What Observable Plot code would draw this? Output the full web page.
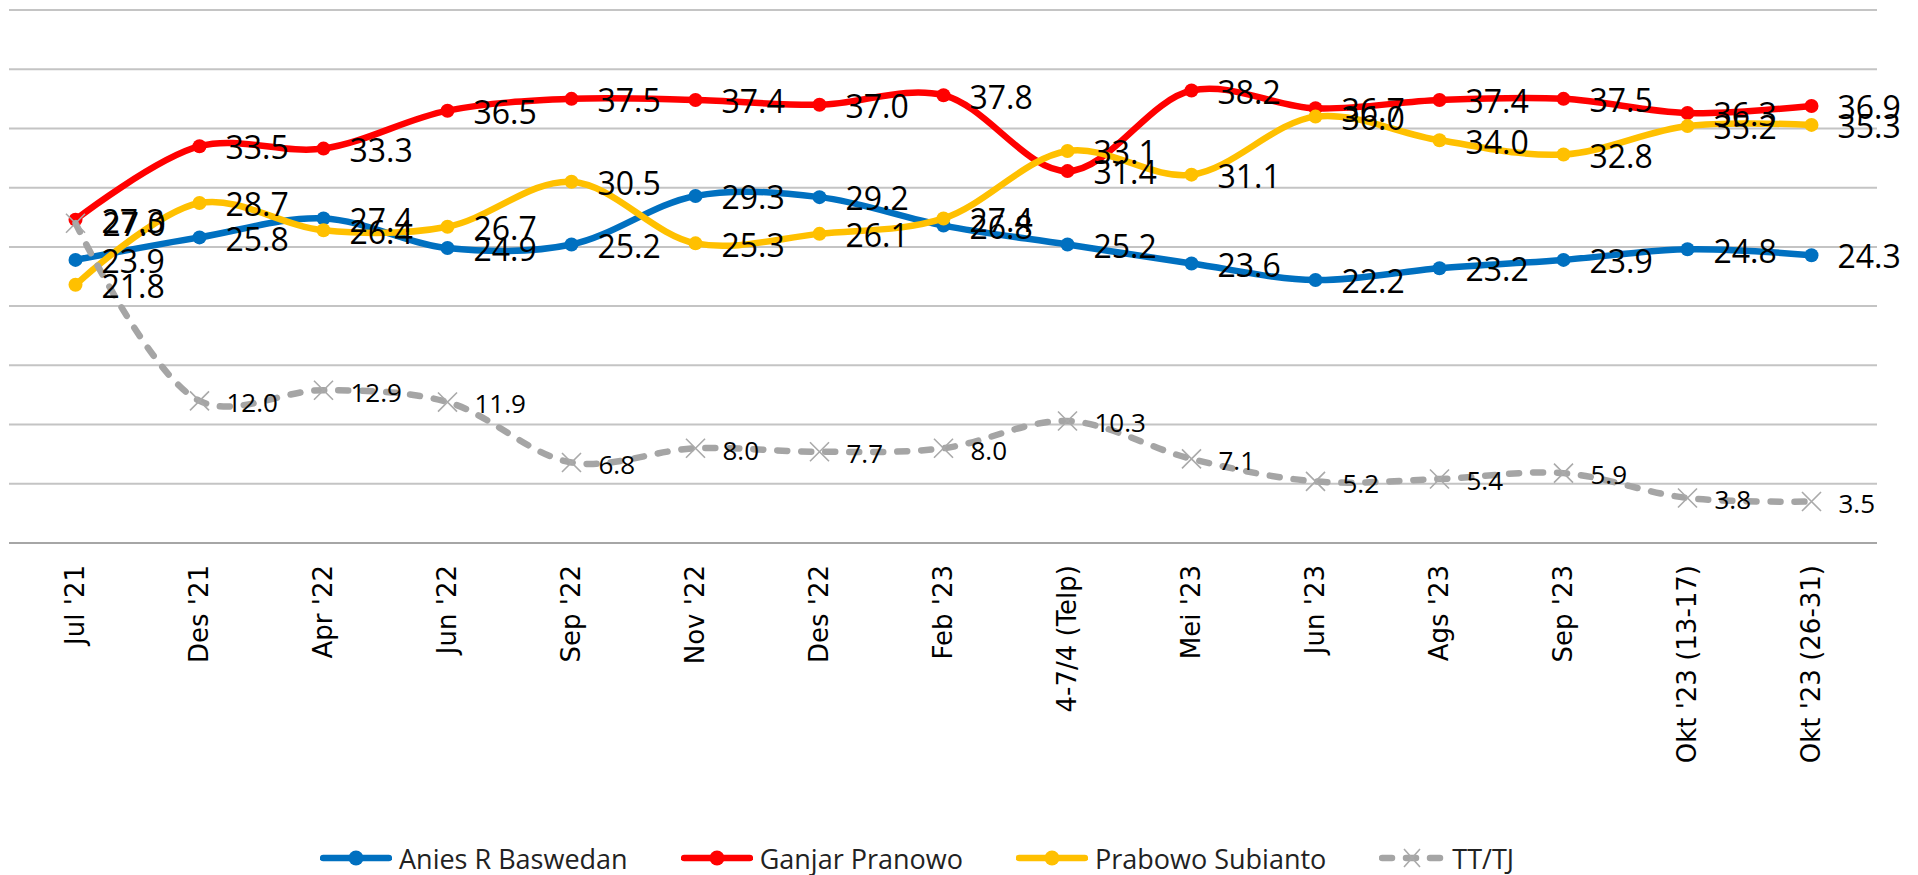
<!DOCTYPE html>
<html>
<head>
<meta charset="utf-8">
<script src="https://cdn.jsdelivr.net/npm/d3@7"></script>
<script src="https://cdn.jsdelivr.net/npm/@observablehq/plot@0.6"></script>
<style>
  body { margin: 0; background: #fff; width: 1918px; height: 875px; overflow: hidden; position: relative; }
  #legend { position: absolute; left: 320px; top: 836px; height: 44px; display: flex; align-items: center;
            font-family: "Open Sans", "Noto Sans", sans-serif; font-size: 27px; color: #222; white-space: nowrap; }
  .item { display: flex; align-items: center; margin-right: 53px; }
  .item svg { margin-right: 7px; }
</style>
</head>
<body>
<div id="chart"></div>
<div id="legend"></div>
<script>
const categories = ["Jul '21", "Des '21", "Apr '22", "Jun '22", "Sep '22", "Nov '22", "Des '22", "Feb '23",
  "4-7/4 (Telp)", "Mei '23", "Jun '23", "Ags '23", "Sep '23", "Okt '23 (13-17)", "Okt '23 (26-31)"];
const anies   = [23.9, 25.8, 27.4, 24.9, 25.2, 29.3, 29.2, 26.8, 25.2, 23.6, 22.2, 23.2, 23.9, 24.8, 24.3];
const ganjar  = [27.3, 33.5, 33.3, 36.5, 37.5, 37.4, 37.0, 37.8, 31.4, 38.2, 36.7, 37.4, 37.5, 36.3, 36.9];
const prabowo = [21.8, 28.7, 26.4, 26.7, 30.5, 25.3, 26.1, 27.4, 33.1, 31.1, 36.0, 34.0, 32.8, 35.2, 35.3];
const ttj     = [27.0, 12.0, 12.9, 11.9, 6.8, 8.0, 7.7, 8.0, 10.3, 7.1, 5.2, 5.4, 5.9, 3.8, 3.5];
const seriesNames = ["Anies R Baswedan", "Ganjar Pranowo", "Prabowo Subianto", "TT/TJ"];
const seriesColors = ["#0070C0", "#FF0000", "#FFC000", "#A5A5A5"];
const yTicks = [0, 5, 10, 15, 20, 25, 30, 35, 40, 45];

const seriesValues = [anies, ganjar, prabowo, ttj];
const rows = seriesValues.map((vals, s) => vals.map((v, i) => ({cat: categories[i], v, i, s})));

const W = 1918, H = 815, yZero = 542.5;
const marks = [
  Plot.ruleY(yTicks.filter(t => t > 0), {stroke: "#c4c4c4", strokeWidth: 2}),
  Plot.ruleY([0], {stroke: "#a6a6a6", strokeWidth: 2}),
  Plot.axisX({tickRotate: -90, tickSize: 0, tickPadding: 22, fontSize: 26,
              fontFamily: "DejaVu Sans", fill: "#000", label: null})
];
rows.forEach((data, s) => {
  const color = seriesColors[s];
  if (s < 3) {
    marks.push(Plot.line(data, {x: "cat", y: "v", stroke: color, strokeWidth: 6.5, curve: "catmull-rom",
                                strokeLinecap: "round", strokeLinejoin: "round"}));
    marks.push(Plot.dot(data, {x: "cat", y: "v", fill: color, r: 7, stroke: null}));
  } else {
    marks.push(Plot.line(data, {x: "cat", y: "v", stroke: color, strokeWidth: 6.5, curve: "catmull-rom",
                                strokeDasharray: "10 14", strokeLinecap: "round"}));
    marks.push(Plot.dot(data, {x: "cat", y: "v", symbol: "times", r: 8.7, stroke: "#aaaaaa",
                               strokeWidth: 1.6, fill: "none"}));
  }
});
rows.forEach((data, s) => {
  marks.push(Plot.text(data, {
    x: "cat", y: "v", text: d => d.v.toFixed(1), textAnchor: "start",
    dx: s < 3 ? 26 : 27, dy: 3,
    fontSize: s < 3 ? 32 : (d => d.i === 0 ? 32 : 26),
    fontFamily: "Open Sans", fill: "#000"
  }));
});

const chart = Plot.plot({
  width: W, height: H,
  marginLeft: 9, marginRight: 41, marginTop: 9.5, marginBottom: H - yZero,
  x: {type: "point", domain: categories, padding: 0.5, label: null, axis: null},
  y: {domain: [0, 45], axis: null},
  style: {background: "#fff", color: "#000", overflow: "visible"},
  marks
});
document.getElementById("chart").appendChild(chart);

// Legend
const legend = document.getElementById("legend");
seriesNames.forEach((name, s) => {
  const item = document.createElement("div");
  item.className = "item";
  const color = seriesColors[s];
  let sw;
  if (s < 3) {
    sw = `<svg width="72" height="20"><line x1="3" y1="10" x2="69" y2="10" stroke="${color}" stroke-width="6.5" stroke-linecap="round"/><circle cx="36" cy="10" r="7.5" fill="${color}"/></svg>`;
  } else {
    sw = `<svg width="66" height="22"><line x1="3" y1="11" x2="63" y2="11" stroke="${color}" stroke-width="6.5" stroke-linecap="round" stroke-dasharray="10 14" stroke-dashoffset="0"/><path d="M25,2L41,20M41,2L25,20" stroke="#aaaaaa" stroke-width="1.6"/></svg>`;
  }
  item.innerHTML = sw + `<span>${name}</span>`;
  legend.appendChild(item);
});
</script>
</body>
</html>
